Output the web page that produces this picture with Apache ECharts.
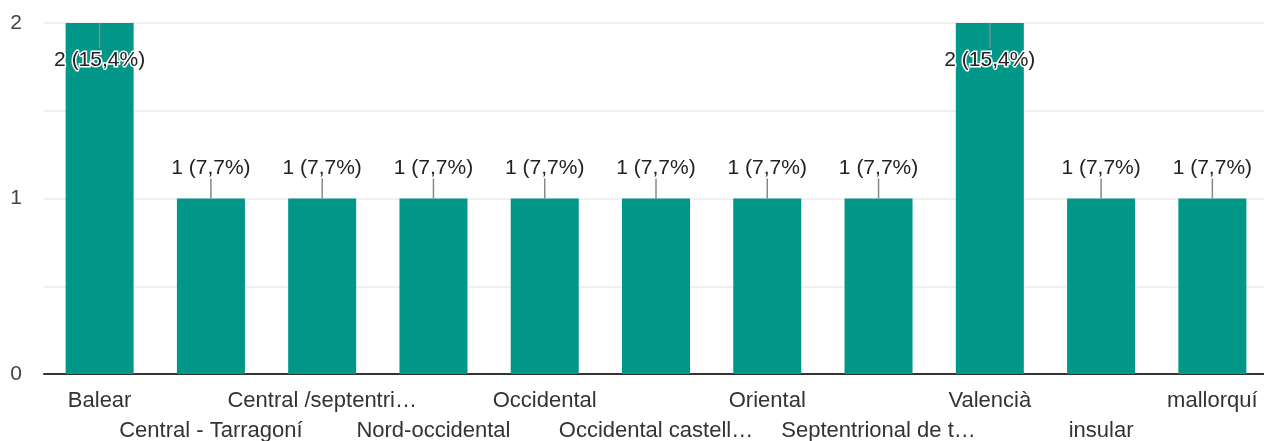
<!DOCTYPE html>
<html>
<head>
<meta charset="utf-8">
<script src="https://cdn.jsdelivr.net/npm/echarts@6/dist/echarts.min.js"></script>
<style>
  html, body { margin: 0; padding: 0; background: #fff; }
  #chart { width: 1264px; height: 441px; }
</style>
</head>
<body>
<div id="chart"></div>
<script>
// Dialect responses
const categories = [
  'Balear', 'Central - Tarragoní', 'Central /septentri…', 'Nord-occidental',
  'Occidental', 'Occidental castell…', 'Oriental', 'Septentrional de t…',
  'Valencià', 'insular', 'mallorquí'
];
const counts = [2, 1, 1, 1, 1, 1, 1, 1, 2, 1, 1];
const yTicks = [0, 1, 2];

const total = counts.reduce((a, b) => a + b, 0);
const yMax = yTicks[yTicks.length - 1];
const FONT = '"Liberation Sans", Arial, sans-serif';
const TEAL = '#009688';

function labelText(v) {
  return v + ' (' + (v / total * 100).toFixed(1).replace('.', ',') + '%)';
}

const barData = counts.map(v => {
  const atTop = v >= yMax;
  return {
    value: v,
    label: atTop
      ? { position: 'insideTop', distance: 27, textBorderColor: '#fff', textBorderWidth: 3 }
      : { position: 'top', distance: 20 }
  };
});

const chart = echarts.init(document.getElementById('chart'));
chart.setOption({
  animation: false,
  grid: {
    left: 44, top: 23, width: 1224, height: 351,
    containLabel: false, outerBoundsMode: 'none'
  },
  xAxis: {
    type: 'category',
    data: categories,
    axisLine: { lineStyle: { color: '#333', width: 2 } },
    axisTick: { show: false },
    axisLabel: {
      interval: 0,
      margin: 12,
      fontFamily: FONT,
      fontSize: 22,
      color: '#333',
      lineHeight: 30,
      formatter: (name, idx) => (idx % 2 === 1 ? '\n' + name : name)
    }
  },
  yAxis: {
    type: 'value',
    min: 0,
    max: yMax,
    interval: 0.5,
    axisLine: { show: false },
    axisTick: { show: false },
    splitLine: { lineStyle: { color: '#ebebeb', width: 1.5 } },
    axisLabel: {
      margin: 22,
      fontFamily: FONT,
      fontSize: 21,
      color: '#444',
      verticalAlign: 'middle',
      padding: [3, 0, 0, 0],
      formatter: v => (yTicks.indexOf(v) >= 0 ? String(v) : '')
    }
  },
  series: [
    {
      type: 'bar',
      data: barData,
      barWidth: 68,
      itemStyle: { color: TEAL },
      label: {
        show: true,
        fontFamily: FONT,
        fontSize: 21,
        color: '#222',
        formatter: p => labelText(p.value)
      },
      z: 2
    },
    {
      // leader lines between each bar top and its value label
      type: 'custom',
      data: counts.map((v, i) => [i, v]),
      z: 3,
      silent: true,
      renderItem: (params, api) => {
        const v = api.value(1);
        const p = api.coord([api.value(0), v]);
        const atTop = v >= yMax;
        const y2 = atTop ? p[1] + 25 : p[1] - 20;
        return {
          type: 'line',
          shape: { x1: p[0], y1: p[1], x2: p[0], y2: y2 },
          style: { stroke: '#888', lineWidth: 1.5 }
        };
      }
    }
  ]
});
</script>
</body>
</html>
